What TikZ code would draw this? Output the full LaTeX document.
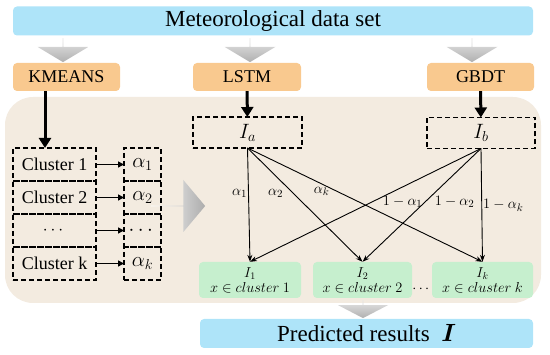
\documentclass[tikz,border=0pt]{standalone}
\usepackage{fontspec}
\setmainfont{Liberation Serif}
\usepackage{amsmath}
\usetikzlibrary{shapes,arrows.meta,positioning,calc}
\definecolor{azulclaro}{RGB}{174,228,249}
\definecolor{naranja}{RGB}{249,201,143}
\definecolor{beige}{RGB}{243,235,224}
\definecolor{verdeclaro}{RGB}{198,239,206}
\tikzset{
    barra/.style={
        rectangle,                % franja azul de entrada / salida
        rounded corners=4pt,      % esquinas apenas redondeadas
        fill=azulclaro,           % relleno celeste
        inner sep=0pt,
        minimum height=29pt,
        font=\fontsize{23}{26}\selectfont
    },
    modelo/.style={
        rectangle,
        rounded corners=4pt,
        fill=naranja,             % cajas de los modelos
        inner sep=0pt,
        minimum width=107pt,
        minimum height=28pt,
        font=\fontsize{18}{20}\selectfont
    },
    punteada/.style={
        rectangle,
        draw,                     % borde negro discontinuo
        line width=1.1pt,
        dash pattern=on 5pt off 3pt,
        inner sep=0pt,
        outer sep=0pt,
        minimum height=33pt,
        font=\fontsize{18}{20}\selectfont
    },
    resultado/.style={
        rectangle,
        rounded corners=4pt,
        fill=verdeclaro,          % predicciones por grupo
        inner sep=0pt,
        minimum height=36pt,
        align=center,
        font=\fontsize{14}{15}\selectfont
    },
    flechagris/.style={
        single arrow,             % flecha gruesa degradada
        inner sep=0pt,
        outer sep=0pt
    },
    abajo/.style={
        flechagris,
        shape border rotate=270,  % apunta hacia abajo
        top color=gray!20,
        bottom color=gray!62
    }
}
\begin{document}
\begin{tikzpicture}[
        x=1pt, y=-1pt,
        every node/.style={align=center},
        gruesa/.style={-{Triangle[length=10pt,width=12pt]}, line width=3pt},
        media/.style={-{Triangle[length=6pt,width=6pt]}, line width=1.6pt},
        fina/.style={-{Stealth[length=7pt,width=5pt]}, line width=0.9pt},
        etiqueta/.style={font=\fontsize{15}{16}\selectfont, inner sep=1pt},
        grande/.style={font=\fontsize{20}{22}\selectfont}
    ]
    \useasboundingbox (0,0) rectangle (550,355);
    \fill[beige, rounded corners=28pt] (5,97) rectangle (541,303);

    \node[barra, minimum width=520pt] (datos) at (273,21) {Meteorological data set};
    \node[modelo] (kmeans) at (66.5,77) {KMEANS};
    \node[modelo, minimum width=108pt] (lstm) at (247,77) {LSTM};
    \node[modelo] (gbdt) at (480.5,77) {GBDT};

    % flechas grises
    \node[abajo, minimum height=24pt, minimum width=51pt,
          single arrow head extend=10.5pt, single arrow tip angle=118] (f1) at (63,50) {};
    \node[abajo, minimum height=24pt, minimum width=51pt,
          single arrow head extend=10.5pt, single arrow tip angle=118] (f2) at (250,50) {};
    \node[abajo, minimum height=24pt, minimum width=51pt,
          single arrow head extend=10.5pt, single arrow tip angle=118] (f3) at (472,50) {};
    \node[flechagris, minimum height=54pt, minimum width=52pt,
          single arrow head extend=13pt, single arrow tip angle=100,
          left color=white, middle color=gray!45, right color=gray!65] (f4) at (178,206) {};
    \node[abajo, minimum height=18pt, minimum width=50pt,
          single arrow head extend=10pt, single arrow tip angle=125] (f5) at (363,309) {};

    % columna de clusters
    \node[punteada, minimum width=83pt] (c1) at (54.5,164.5) {Cluster 1};
    \node[punteada, minimum width=83pt, below=0pt of c1] (c2) {Cluster 2};
    \node[punteada, minimum width=83pt, below=0pt of c2] (c3) {$\cdots$};
    \node[punteada, minimum width=83pt, below=0pt of c3] (c4) {Cluster k};
    \node[punteada, grande, minimum width=37pt, right=28pt of c1] (a1) {$\alpha_1$};
    \node[punteada, grande, minimum width=37pt, below=0pt of a1] (a2) {$\alpha_2$};
    \node[punteada, grande, minimum width=37pt, below=0pt of a2] (a3) {$\cdots$};
    \node[punteada, grande, minimum width=37pt, below=0pt of a3] (a4) {$\alpha_k$};

    \node[punteada, grande, minimum width=109pt, minimum height=31pt] (Ia) at (247.5,132.5) {$I_a$};
    \node[punteada, grande, minimum width=108pt, minimum height=31pt] (Ib) at (481,133) {$I_b$};

    \node[resultado, minimum width=102pt] (I1) at (250,280) {$I_1$\\$x \in cluster\ 1$};
    \node[resultado, minimum width=99pt] (I2) at (362.5,280) {$I_2$\\$x \in cluster\ 2$};
    \node[resultado, minimum width=101pt] (Ik) at (482.5,280) {$I_k$\\$x \in cluster\ k$};
    \node[font=\fontsize{14}{15}\selectfont] (puntos) at (422,289) {$\cdots$};

    \node[barra, minimum width=333pt] (pred) at (366.5,333.5) {Predicted results \ $\boldsymbol{I}$};

    \draw[gruesa] ([xshift=-21.5pt]kmeans.south) -- ([xshift=-21.5pt]kmeans.south |- c1.north);
    \draw[gruesa] (lstm) -- (Ia);
    \draw[gruesa] (gbdt) -- (Ib);

    \foreach \i in {1,...,4}
        \draw[media] (c\i) -- (a\i);

    \draw[fina] (Ia.south) -- node[etiqueta, pos=0.4, left] (l1) {$\alpha_1$} (I1.north);
    \draw[fina] (Ia.south) -- node[etiqueta, pos=0.4, left=9pt] (l2) {$\alpha_2$} (I2.north);
    \draw[fina] (Ia.south) -- node[etiqueta, pos=0.38, left=6pt] (l3) {$\alpha_k$} (Ik.north);
    \draw[fina] (Ib.south) -- node[etiqueta, pos=0.47, right=9pt] (l4) {$1-\alpha_1$} (I1.north);
    \draw[fina] (Ib.south) -- node[etiqueta, pos=0.47, right=8pt] (l5) {$1-\alpha_2$} (I2.north);
    \draw[fina] (Ib.south) -- node[etiqueta, pos=0.5, right] (l6) {$1-\alpha_k$} (Ik.north);
\end{tikzpicture}
\end{document}
